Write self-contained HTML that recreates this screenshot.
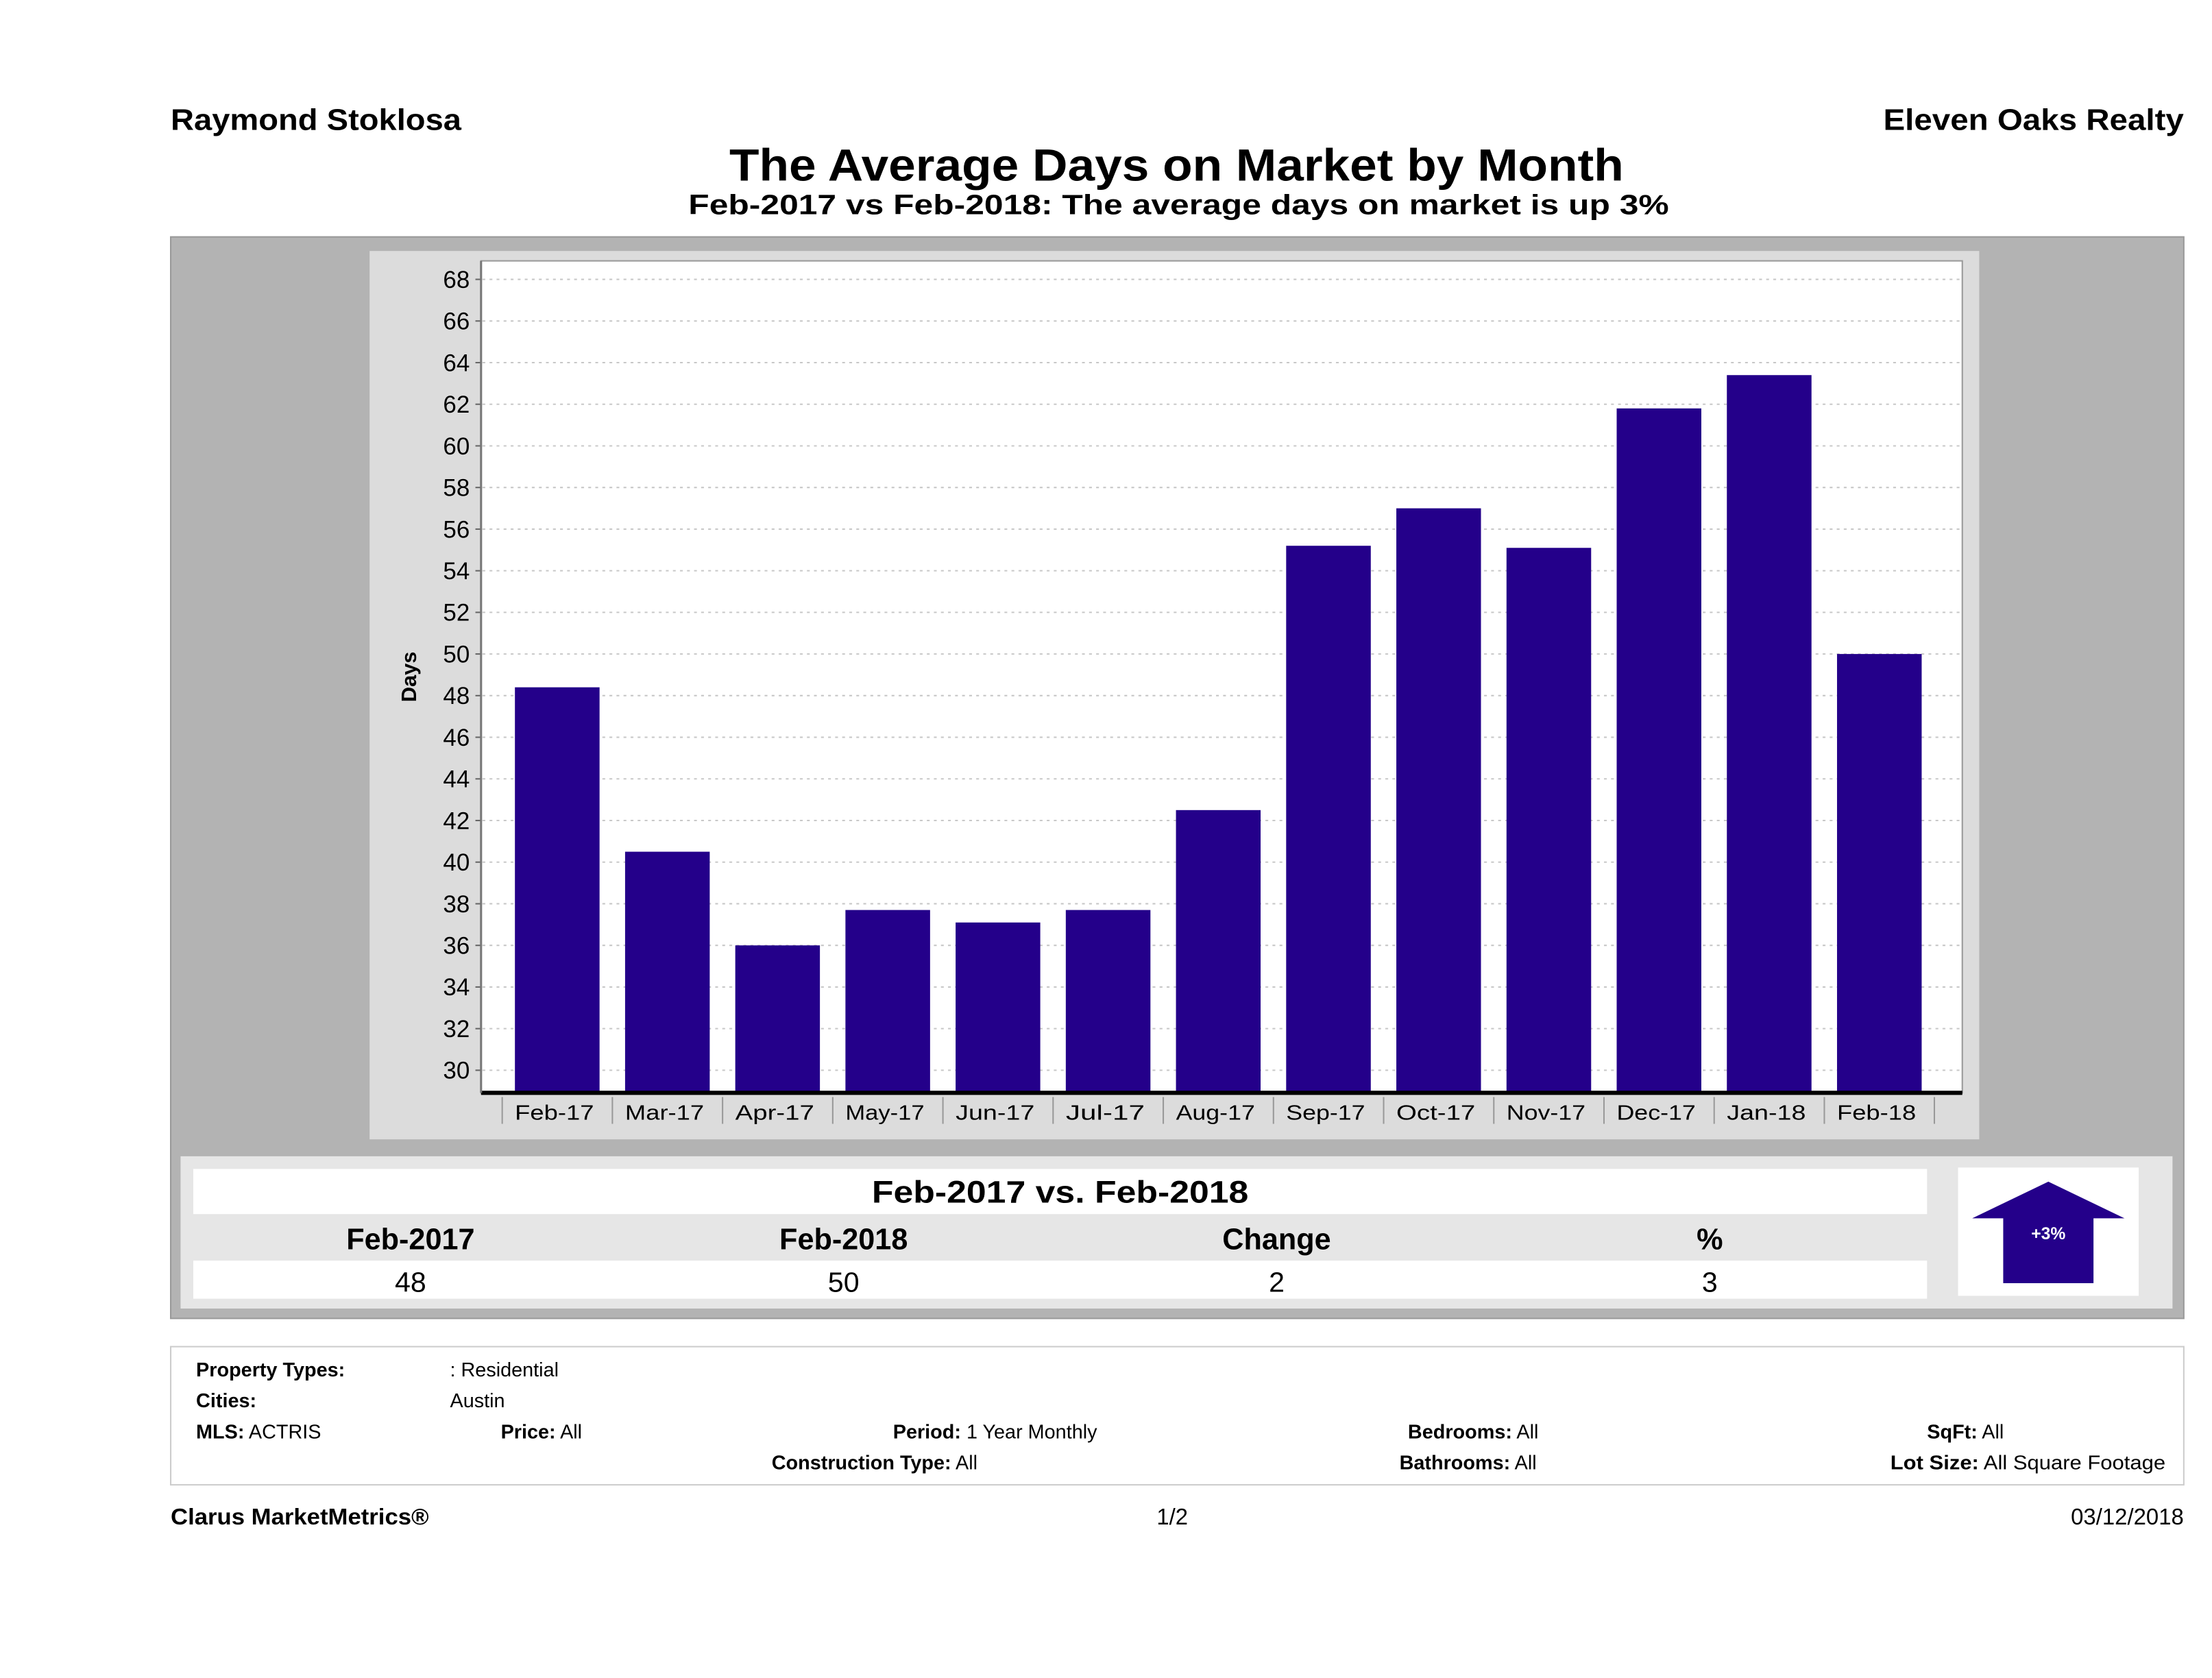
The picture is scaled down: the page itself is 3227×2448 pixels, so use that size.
<!DOCTYPE html>
<html><head><meta charset="utf-8"><style>
html,body{margin:0;padding:0;background:#fff}
svg{display:block;font-family:"Liberation Sans","DejaVu Sans",sans-serif}
</style></head><body>
<svg id="s" width="3227" height="2448" viewBox="0 0 1568 1190" preserveAspectRatio="none" xmlns="http://www.w3.org/2000/svg">
<text x="121" y="92" font-size="21" font-weight="bold" textLength="206" lengthAdjust="spacingAndGlyphs">Raymond Stoklosa</text>
<text x="1335" y="92" font-size="21" font-weight="bold" textLength="213" lengthAdjust="spacingAndGlyphs">Eleven Oaks Realty</text>
<text x="517" y="128" font-size="32" font-weight="bold" textLength="634" lengthAdjust="spacingAndGlyphs">The Average Days on Market by Month</text>
<text x="488" y="152" font-size="20" font-weight="bold" textLength="695" lengthAdjust="spacingAndGlyphs">Feb-2017 vs Feb-2018: The average days on market is up 3%</text>

<rect x="121" y="168" width="1427" height="767" fill="#b3b3b3" stroke="#999"/>
<rect x="262" y="178" width="1141" height="630" fill="#dcdcdc"/>
<rect x="341" y="185" width="1050" height="590" fill="#fff" stroke="#999"/>
<g id="grid"></g>
<g id="yticks"></g>
<g id="bars"></g>
<g id="xticks"></g>
<line x1="341" y1="775" x2="1391" y2="775" stroke="#000" stroke-width="3"/>
<line x1="341" y1="185" x2="341" y2="775" stroke="#777" stroke-width="1.5"/>
<text x="0" y="0" transform="translate(295,480) rotate(-90)" font-size="15" font-weight="bold" text-anchor="middle">Days</text>

<rect x="128" y="820" width="1412" height="108" fill="#e6e6e6"/>
<rect x="137" y="829" width="1229" height="32" fill="#fff"/>
<rect x="137" y="894" width="1229" height="27" fill="#fff"/>
<text x="618" y="853" font-size="22" font-weight="bold" textLength="267" lengthAdjust="spacingAndGlyphs">Feb-2017 vs. Feb-2018</text>
<g font-size="21" font-weight="bold" text-anchor="middle">
<text x="291" y="886">Feb-2017</text>
<text x="598" y="886">Feb-2018</text>
<text x="905" y="886">Change</text>
<text x="1212" y="886">%</text>
</g>
<g font-size="20" text-anchor="middle">
<text x="291" y="916">48</text>
<text x="598" y="916">50</text>
<text x="905" y="916">2</text>
<text x="1212" y="916">3</text>
</g>
<rect x="1388" y="828" width="128" height="91" fill="#fff"/>
<polygon points="1452,838 1506,864 1484,864 1484,910 1420,910 1420,864 1398,864" fill="#24008a"/>
<text x="1452" y="879" font-size="12" font-weight="bold" fill="#fff" text-anchor="middle">+3%</text>

<rect x="121" y="955" width="1427" height="98" fill="#fff" stroke="#ccc"/>
<g font-size="14">
<text x="139" y="976" font-weight="bold">Property Types:</text>
<text x="319" y="976">: Residential</text>
<text x="139" y="998" font-weight="bold">Cities:</text>
<text x="319" y="998">Austin</text>
<text x="139" y="1020"><tspan font-weight="bold">MLS:</tspan>  ACTRIS</text>
<text x="355" y="1020"><tspan font-weight="bold">Price:</tspan> All</text>
<text x="633" y="1020"><tspan font-weight="bold">Period:</tspan> 1 Year Monthly</text>
<text x="998" y="1020"><tspan font-weight="bold">Bedrooms:</tspan> All</text>
<text x="1366" y="1020"><tspan font-weight="bold">SqFt:</tspan>  All</text>
<text x="547" y="1042"><tspan font-weight="bold">Construction Type:</tspan> All</text>
<text x="992" y="1042"><tspan font-weight="bold">Bathrooms:</tspan> All</text>
<text x="1340" y="1042" textLength="195" lengthAdjust="spacingAndGlyphs"><tspan font-weight="bold">Lot Size:</tspan>  All Square Footage</text>
</g>
<text x="121" y="1081" font-size="16" font-weight="bold" textLength="183" lengthAdjust="spacingAndGlyphs">Clarus MarketMetrics®</text>
<text x="831" y="1081" font-size="16" text-anchor="middle">1/2</text>
<text x="1548" y="1081" font-size="16" text-anchor="end">03/12/2018</text>
</svg>
<script>
const categories = ["Feb-17","Mar-17","Apr-17","May-17","Jun-17","Jul-17","Aug-17","Sep-17","Oct-17","Nov-17","Dec-17","Jan-18","Feb-18"];
const daysValues = [48.4,40.5,36.0,37.7,37.1,37.7,42.5,55.2,57.0,55.1,61.8,63.4,50.0];
const yTicks = [30,32,34,36,38,40,42,44,46,48,50,52,54,56,58,60,62,64,66,68];
const NS = "http://www.w3.org/2000/svg";
function yScale(v){ return 759 - (v - 30) * 14.76; }
function xCenter(i){ return 395 + i * 78.1; }
const grid = document.getElementById('grid'), yt = document.getElementById('yticks'),
      bars = document.getElementById('bars'), xt = document.getElementById('xticks');
yTicks.forEach(t => {
  const y = yScale(t);
  const g = document.createElementNS(NS,'line');
  g.setAttribute('x1',342); g.setAttribute('x2',1390); g.setAttribute('y1',y); g.setAttribute('y2',y);
  g.setAttribute('stroke','#c8c8c8'); g.setAttribute('stroke-dasharray','2,3');
  
  
  grid.appendChild(g);
  const tk = document.createElementNS(NS,'line');
  tk.setAttribute('x1',337); tk.setAttribute('x2',341); tk.setAttribute('y1',y); tk.setAttribute('y2',y);
  tk.setAttribute('stroke','#666');
  
  
  yt.appendChild(tk);
  const tx = document.createElementNS(NS,'text');
  tx.setAttribute('x',333); tx.setAttribute('y',y+6); tx.setAttribute('font-size','17'); tx.setAttribute('text-anchor','end');
  tx.textContent = t;
  
  
  yt.appendChild(tx);
});
categories.forEach((c,i) => {
  const cx = xCenter(i), top = yScale(daysValues[i]);
  const r = document.createElementNS(NS,'rect');
  r.setAttribute('x',cx-30); r.setAttribute('width',60); r.setAttribute('y',top); r.setAttribute('height',775-top);
  r.setAttribute('fill','#24008a');
  
  
  bars.appendChild(r);
  const sep = document.createElementNS(NS,'line');
  sep.setAttribute('x1',cx-39); sep.setAttribute('x2',cx-39); sep.setAttribute('y1',778); sep.setAttribute('y2',797);
  sep.setAttribute('stroke','#999');
  
  
  xt.appendChild(sep);
  const tx = document.createElementNS(NS,'text');
  tx.setAttribute('x',cx-2); tx.setAttribute('y',794); tx.setAttribute('font-size','15'); tx.setAttribute('text-anchor','middle');
  tx.setAttribute('textLength','56'); tx.setAttribute('lengthAdjust','spacingAndGlyphs');
  tx.textContent = c;
  
  
  xt.appendChild(tx);
});
const last = document.createElementNS(NS,'line');
const lx = xCenter(categories.length-1)+39;
last.setAttribute('x1',lx); last.setAttribute('x2',lx); last.setAttribute('y1',778); last.setAttribute('y2',797);
last.setAttribute('stroke','#999');


xt.appendChild(last);
</script>
</body></html>
